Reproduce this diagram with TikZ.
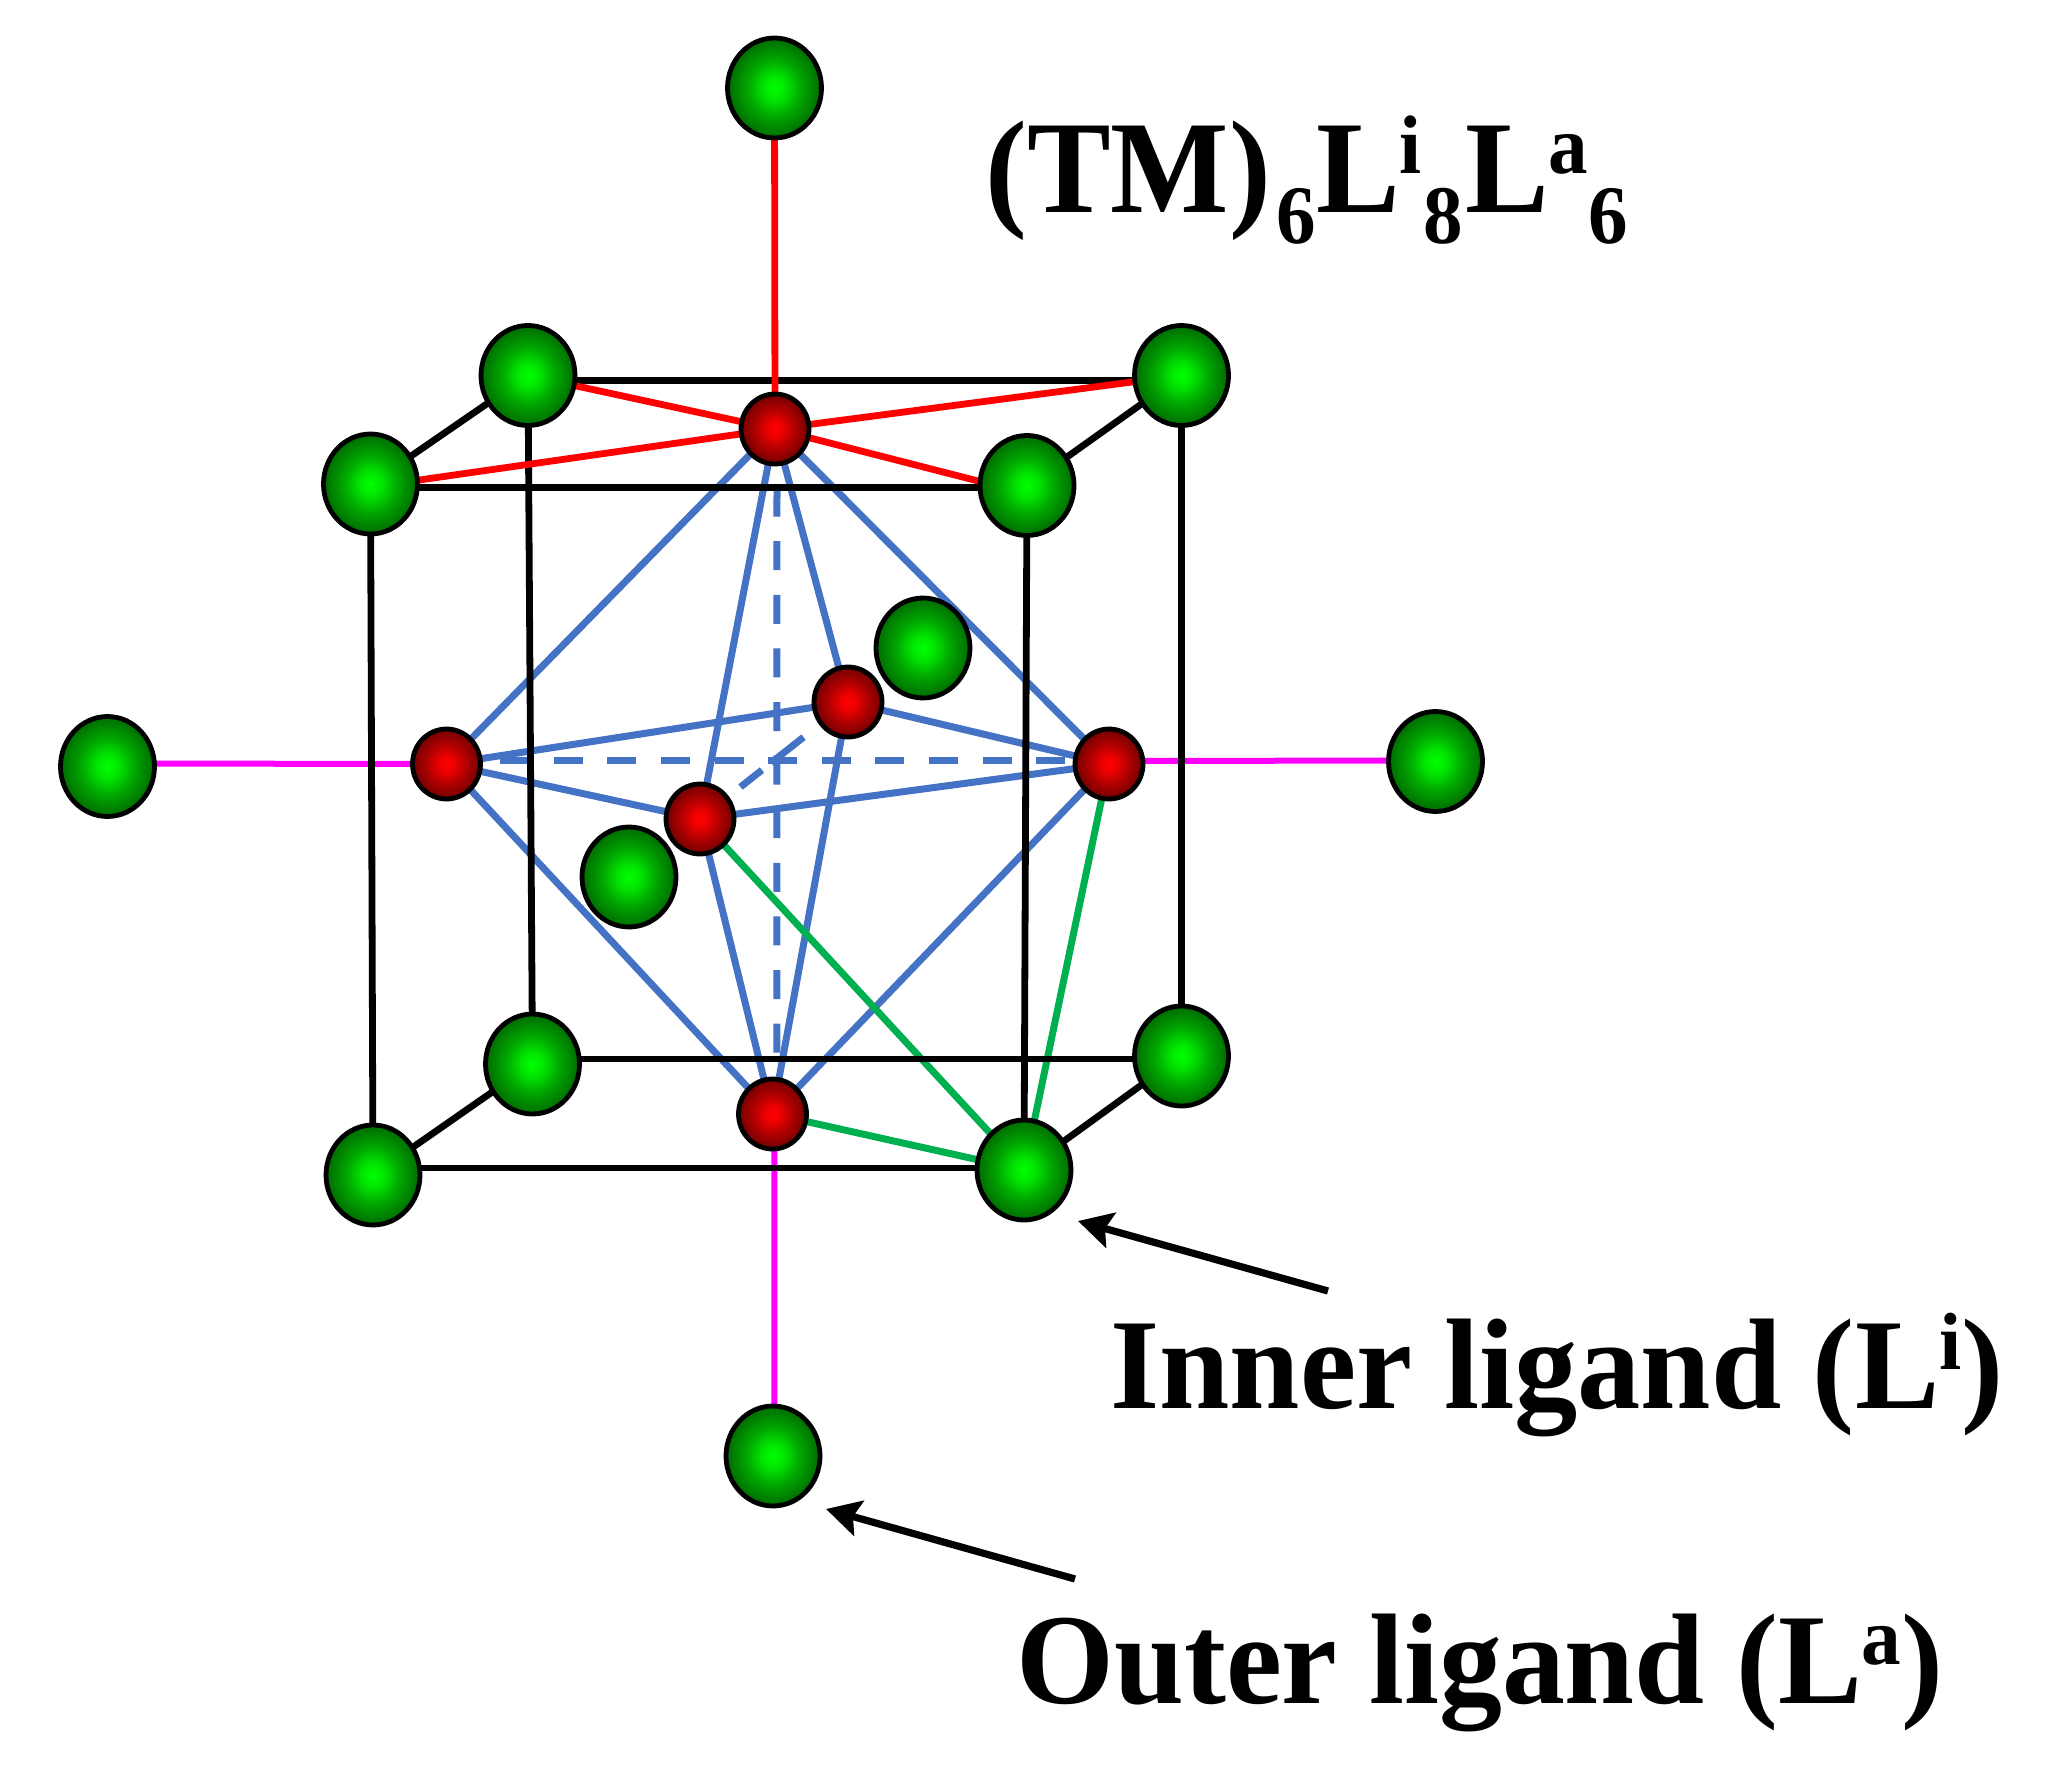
\documentclass[tikz,border=0pt]{standalone}
\usepackage{graphicx}
\usepackage{fontspec}
\setmainfont{Liberation Serif}
\usetikzlibrary{shapes.geometric,arrows.meta}
\pgfdeclarelayer{bg}
\pgfsetlayers{bg,main}
\definecolor{bondblue}{RGB}{68,114,196}
\definecolor{bondgreen}{RGB}{0,176,80}
\definecolor{bondmag}{RGB}{255,0,255}
\pgfdeclareradialshading{gball}{\pgfpoint{0bp}{0bp}}{rgb(0bp)=(0,1,0); rgb(6bp)=(0,0.9,0); rgb(14bp)=(0,0.66,0); rgb(25bp)=(0,0.42,0); rgb(50bp)=(0,0.42,0)}
\pgfdeclareradialshading{rball}{\pgfpoint{0bp}{0bp}}{rgb(0bp)=(1,0,0); rgb(6bp)=(0.92,0,0); rgb(14bp)=(0.7,0,0); rgb(25bp)=(0.45,0,0); rgb(50bp)=(0.45,0,0)}
\newcommand{\mysup}[1]{\raisebox{0.30em}{\fontsize{0.63em}{0.8em}\selectfont #1}}
\newcommand{\mysub}[1]{\raisebox{-0.23em}{\fontsize{0.63em}{0.8em}\selectfont #1}}
\tikzset{
  gnode/.style={ellipse,draw=black,line width=2.4pt,shading=gball,minimum width=47pt,minimum height=50pt,inner sep=0pt,outer sep=0pt},
  rnode/.style={ellipse,draw=black,line width=2.4pt,shading=rball,minimum width=34pt,minimum height=35pt,inner sep=0pt,outer sep=0pt},
  blk/.style={black,line width=3.4pt},
  redb/.style={red,line width=3.4pt},
  blu/.style={bondblue,line width=3.5pt},
  bludash/.style={bondblue,line width=3.5pt,dash pattern=on 14.5pt off 12.3pt},
  grn/.style={bondgreen,line width=3.5pt},
  mag/.style={bondmag,line width=3pt},
  pointer/.style={black,line width=3.6pt,-{Stealth[length=17pt,width=18pt,inset=3pt]}},
  lbl/.style={anchor=base west,inner sep=0pt,font=\bfseries\fontsize{64.5pt}{70pt}\selectfont}
}
\begin{document}
\begin{tikzpicture}[x=0.5pt,y=-0.5pt]
\useasboundingbox (0,0) rectangle (2045,1781);
% outer ligands
\node[gnode] (gtop) at (774.5,88) {};
\node[gnode] (gleft) at (107.5,766.5) {};
\node[gnode] (gright) at (1435.5,761.5) {};
\node[gnode] (gbot) at (773,1456) {};
% cube corners
\node[gnode] (tbl) at (528,375.5) {};
\node[gnode] (tbr) at (1181.5,375.5) {};
\node[gnode] (tfl) at (370.5,484) {};
\node[gnode] (tfr) at (1027,485.5) {};
\node[gnode] (bbl) at (532.5,1064) {};
\node[gnode] (bbr) at (1181.5,1056) {};
\node[gnode] (bfl) at (373,1175) {};
\node[gnode] (bfr) at (1024,1170) {};
% inner ligands in the middle
\node[gnode] (gib) at (923,648) {};
\node[gnode] (gif) at (629,877) {};
% metals
\node[rnode] (rt) at (775,429) {};
\node[rnode] (rl) at (446.5,764) {};
\node[rnode] (rr) at (1109,764) {};
\node[rnode] (rb) at (772.5,1114) {};
\node[rnode] (rbk) at (848,702) {};
\node[rnode] (rf) at (700,819) {};
% labels
\node[lbl,font=\bfseries\fontsize{66pt}{70pt}\selectfont] (title) at (985,213) {\scalebox{0.95}[1]{(TM)\kern3pt\mysub{6}L\mysup{i}\kern1pt\mysub{8}\kern1pt L\mysup{a}\mysub{6}}};
\node[lbl] (inner) at (1110,1408) {\scalebox{0.98}[1]{Inner ligand (L\mysup{i})}};
\node[lbl] (outer) at (1016,1703) {\scalebox{0.975}[1]{Outer ligand (L\mysup{a})}};
% arrow ends
\coordinate (a1s) at (1328,1291);
\coordinate (a1e) at (1078,1221);
\coordinate (a2s) at (1075,1579);
\coordinate (a2e) at (826,1509);
\draw[pointer] (a1s) -- (a1e);
\draw[pointer] (a2s) -- (a2e);
\begin{pgfonlayer}{bg}
% octahedron
\draw[blu] (rt.center) -- (rl.center);
\draw[blu] (rt.center) -- (rr.center);
\draw[blu] (rt.center) -- (rf.center);
\draw[blu] (rt.center) -- (rbk.center);
\draw[blu] (rb.center) -- (rl.center);
\draw[blu] (rb.center) -- (rr.center);
\draw[blu] (rb.center) -- (rf.center);
\draw[blu] (rb.center) -- (rbk.center);
\draw[blu] (rl.center) -- (rf.center);
\draw[blu] (rl.center) -- (rbk.center);
\draw[blu] (rr.center) -- (rf.center);
\draw[blu] (rr.center) -- (rbk.center);
\draw[bludash] ([yshift=1.8pt]rl.center) -- ([yshift=1.8pt]rr.center);
\draw[bludash,dash phase=24.3pt] ([xshift=1pt]rt.center) -- ([xshift=2.2pt]rb.center);
\draw[bondblue,line width=3.5pt,dash pattern=on 0pt off 25.8pt on 13.7pt off 5.8pt on 20.7pt off 50pt] (rf.center) -- (rbk.center);
% green triangle
\draw[grn] (rf.center) -- (bfr.center);
\draw[grn] (rr.center) -- (bfr.center);
\draw[grn] (rb.center) -- (bfr.center);
% apical bonds
\draw[mag] ([yshift=1.5pt]gleft.center) -- (rl.center);
\draw[mag] ([yshift=1.5pt]rr.center) -- ([yshift=0.5pt]gright.center);
\draw[mag] ([xshift=1pt]rb.center) -- ([xshift=0.7pt]gbot.center);
% cube
\draw[blk] ([yshift=-2.5pt]tbl.center) -- ([yshift=-2.5pt]tbr.center);
\draw[blk] ([yshift=-1.75pt]tfl.center) -- ([yshift=-1pt]tfr.center);
\draw[blk] ([yshift=2.5pt]bbl.center) -- ([yshift=-1.5pt]bbr.center);
\draw[blk] ([yshift=3.5pt]bfl.center) -- ([yshift=1pt]bfr.center);
\draw[blk] (tfl.center) -- (tbl.center);
\draw[blk] (tfr.center) -- (tbr.center);
\draw[blk] (bfl.center) -- (bbl.center);
\draw[blk] (bfr.center) -- (bbr.center);
\draw[blk] (tfl.center) -- (bfl.center);
\draw[blk] (tbl.center) -- (bbl.center);
\draw[blk] (tfr.center) -- (bfr.center);
\draw[blk] (tbr.center) -- (bbr.center);
% top bonds
\draw[redb] (gtop.center) -- (rt.center);
\draw[redb] (tbl.center) -- (rt.center);
\draw[redb] (tbr.center) -- (rt.center);
\draw[redb] ([yshift=-1.5pt]tfl.center) -- (rt.center);
\draw[redb] ([yshift=-4pt]tfr.center) -- (rt.center);
\end{pgfonlayer}
\end{tikzpicture}
\end{document}
